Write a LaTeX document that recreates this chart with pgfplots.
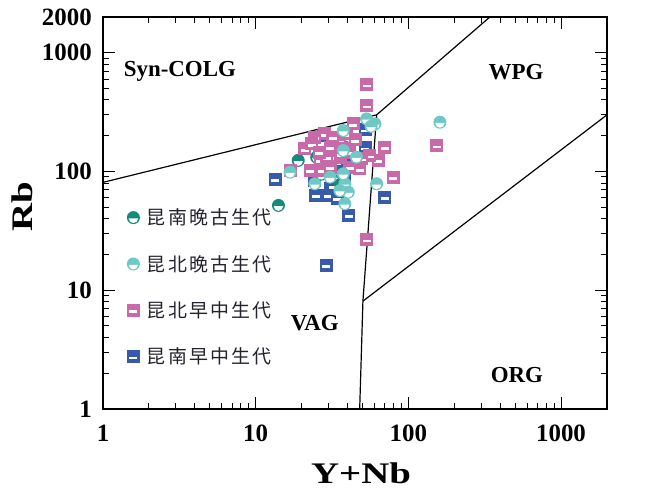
\documentclass[border=0pt]{standalone}
\usepackage{fontspec}
\setmainfont{Liberation Serif}
\newfontfamily\cjk{Noto Sans CJK SC}[LetterSpace=12]
\usepackage{graphicx}
\usepackage{pgfplots}
\pgfplotsset{compat=1.18}

\definecolor{dteal}{RGB}{20,140,125}
\definecolor{lteal}{RGB}{110,200,195}
\definecolor{kpink}{RGB}{200,105,170}
\definecolor{kblue}{RGB}{55,90,170}
\definecolor{ltext}{RGB}{35,35,45}

\pgfdeclareplotmark{hcirc}{%
  \pgfpathcircle{\pgfpointorigin}{\pgfplotmarksize}%
  \pgfusepathqfill
  \pgfscope
  \pgfsetfillcolor{white}%
  \pgfpathmoveto{\pgfpoint{-0.72\pgfplotmarksize}{-0.12\pgfplotmarksize}}%
  \pgfpatharc{180}{360}{0.72\pgfplotmarksize}%
  \pgfpathclose
  \pgfusepathqfill
  \endpgfscope
}
\pgfdeclareplotmark{bsq}{%
  \pgfpathrectangle{\pgfpoint{-\pgfplotmarksize}{-\pgfplotmarksize}}{\pgfpoint{2\pgfplotmarksize}{2\pgfplotmarksize}}%
  \pgfusepathqfill
  \pgfscope
  \pgfsetfillcolor{white}%
  \pgfpathrectangle{\pgfpoint{-0.62\pgfplotmarksize}{-0.42\pgfplotmarksize}}{\pgfpoint{1.24\pgfplotmarksize}{0.42\pgfplotmarksize}}%
  \pgfusepathqfill
  \endpgfscope
}

\begin{document}
\begin{tikzpicture}
\begin{axis}[
  xmode=log, ymode=log,
  scale only axis, width=504bp, height=392bp,
  xmin=1, xmax=2000, ymin=1, ymax=2000,
  axis line style={line width=1.2bp, black},
  tick style={line width=1bp, black},
  tick align=inside,
  major tick length=12bp, minor tick length=6bp,
  xtick={1,10,100,1000}, xticklabels={1,10,100,1000},
  ytick={1,10,100,1000,2000}, yticklabels={1,10,100,1000,2000},
  minor xtick={2,3,4,5,6,7,8,9,20,30,40,50,60,70,80,90,200,300,400,500,600,700,800,900},
  minor ytick={2,3,4,5,6,7,8,9,20,30,40,50,60,70,80,90,200,300,400,500,600,700,800,900},
  ticklabel style={font=\bfseries\fontsize{25}{25}\selectfont},
  xticklabel style={anchor=north, inner sep=0pt, yshift=-16bp},
  yticklabel style={anchor=east, inner sep=0pt, xshift=-11bp},
  label style={font=\bfseries\fontsize{30}{30}\selectfont},
  xlabel={\scalebox{1.3}[1]{Y+Nb}},
  ylabel={\scalebox{1.3}[1]{Rb}},
  xlabel style={at={(axis description cs:0.512,0)}, anchor=base, yshift=-74bp},
  ylabel style={at={(axis description cs:-0.139,0.515)}, anchor=base},
  legend image code/.code={\draw[#1] plot coordinates {(0bp,0bp)};},
  legend cell align=left,
  legend style={at={(axis description cs:0.047,0.516)}, anchor=north west,
    draw=none, fill=none, inner sep=0pt, row sep=25bp, column sep=5bp,
    font=\cjk\fontsize{19}{19}\selectfont, text=ltext},
]
\coordinate (sw) at (rel axis cs:0,0);
\coordinate (ne) at (rel axis cs:1,1);

\addlegendimage{only marks, mark=hcirc, mark size=6.5bp, color=dteal}
\addlegendentry{昆南晚古生代}
\addlegendimage{only marks, mark=hcirc, mark size=6.5bp, color=lteal}
\addlegendentry{昆北晚古生代}
\addlegendimage{only marks, mark=bsq, mark size=6.5bp, color=kpink}
\addlegendentry{昆北早中生代}
\addlegendimage{only marks, mark=bsq, mark size=6.5bp, color=kblue}
\addlegendentry{昆南早中生代}

% boundaries
\addplot[forget plot, black, line width=1.2bp] coordinates {(1,81) (62,300) (342,2000)};
\addplot[forget plot, black, line width=1.2bp] coordinates {(62,300) (50.4,8.1) (48,1)};
\addplot[forget plot, black, line width=1.2bp] coordinates {(50.4,8.1) (2000,300)};

% 昆南早中生代
\addplot[forget plot, only marks, mark=bsq, mark size=6.5bp, color=kblue] coordinates {
(13.4,85.7) (28.9,16.2) (40.8,42.7) (70.3,60.8) (24.8,62.9) (29.7,62.9)
(34.1,59.3) (30.7,72) (35.6,69) (52,225) (52,159) (46,131) (27,124)
(33,92) (38.4,84) (30.7,150) (24.4,84) (32,75) (36,100) (29,110)
(40,120) (34,180) (28,200) (42,110)
};
% 昆南晚古生代
\addplot[forget plot, only marks, mark=hcirc, mark size=6.5bp, color=dteal] coordinates {
(14.1,51.8) (19,124) (25.1,132) (30.7,116) (33.9,89.6) (38.4,160)
(35.6,188) (32.2,102) (28.4,109) (27,95) (36,78)
};
% 昆北早中生代
\addplot[forget plot, only marks, mark=bsq, mark size=6.5bp, color=kpink] coordinates {
(53.3,538) (53.3,359) (43.6,252) (28.4,207) (24.4,194) (21,155) (16.8,102)
(70.3,160) (153,165) (79.6,89.6) (53.3,26.7) (63.5,124) (56,136) (48.2,105)
(41.4,109) (22.7,102) (26.4,124) (30.7,160) (35.6,182) (39.5,207) (33.9,132)
(29.2,132) (27,102) (30.7,109) (37.5,155) (41.4,145) (49.4,128) (23.3,171)
(26,145) (32,195) (45,185) (36,140)
};
% 昆北晚古生代
\addplot[forget plot, only marks, mark=hcirc, mark size=6.5bp, color=lteal] coordinates {
(161,260) (53.3,277) (60.4,252) (62,78.9) (38.4,78.9) (40.4,67) (38.4,53.5)
(24.4,78.9) (16.8,98.6) (37.5,150) (45.7,132) (37.5,221) (37.5,95.6)
(30.7,89.6) (35.6,69) (57,240)
};

\node[font=\bfseries\fontsize{23}{23}\selectfont] at (axis cs:3.19,692) {Syn-COLG};
\node[font=\bfseries\fontsize{23}{23}\selectfont] at (axis cs:507,692) {WPG};
\node[font=\bfseries\fontsize{23}{23}\selectfont] at (axis cs:24.4,5.28) {VAG};
\node[font=\bfseries\fontsize{23}{23}\selectfont] at (axis cs:514,1.93) {ORG};
\end{axis}
\pgfresetboundingbox
\path ([shift={(-103bp,-79bp)}]sw) rectangle ([shift={(46bp,17bp)}]ne);
\end{tikzpicture}
\end{document}
